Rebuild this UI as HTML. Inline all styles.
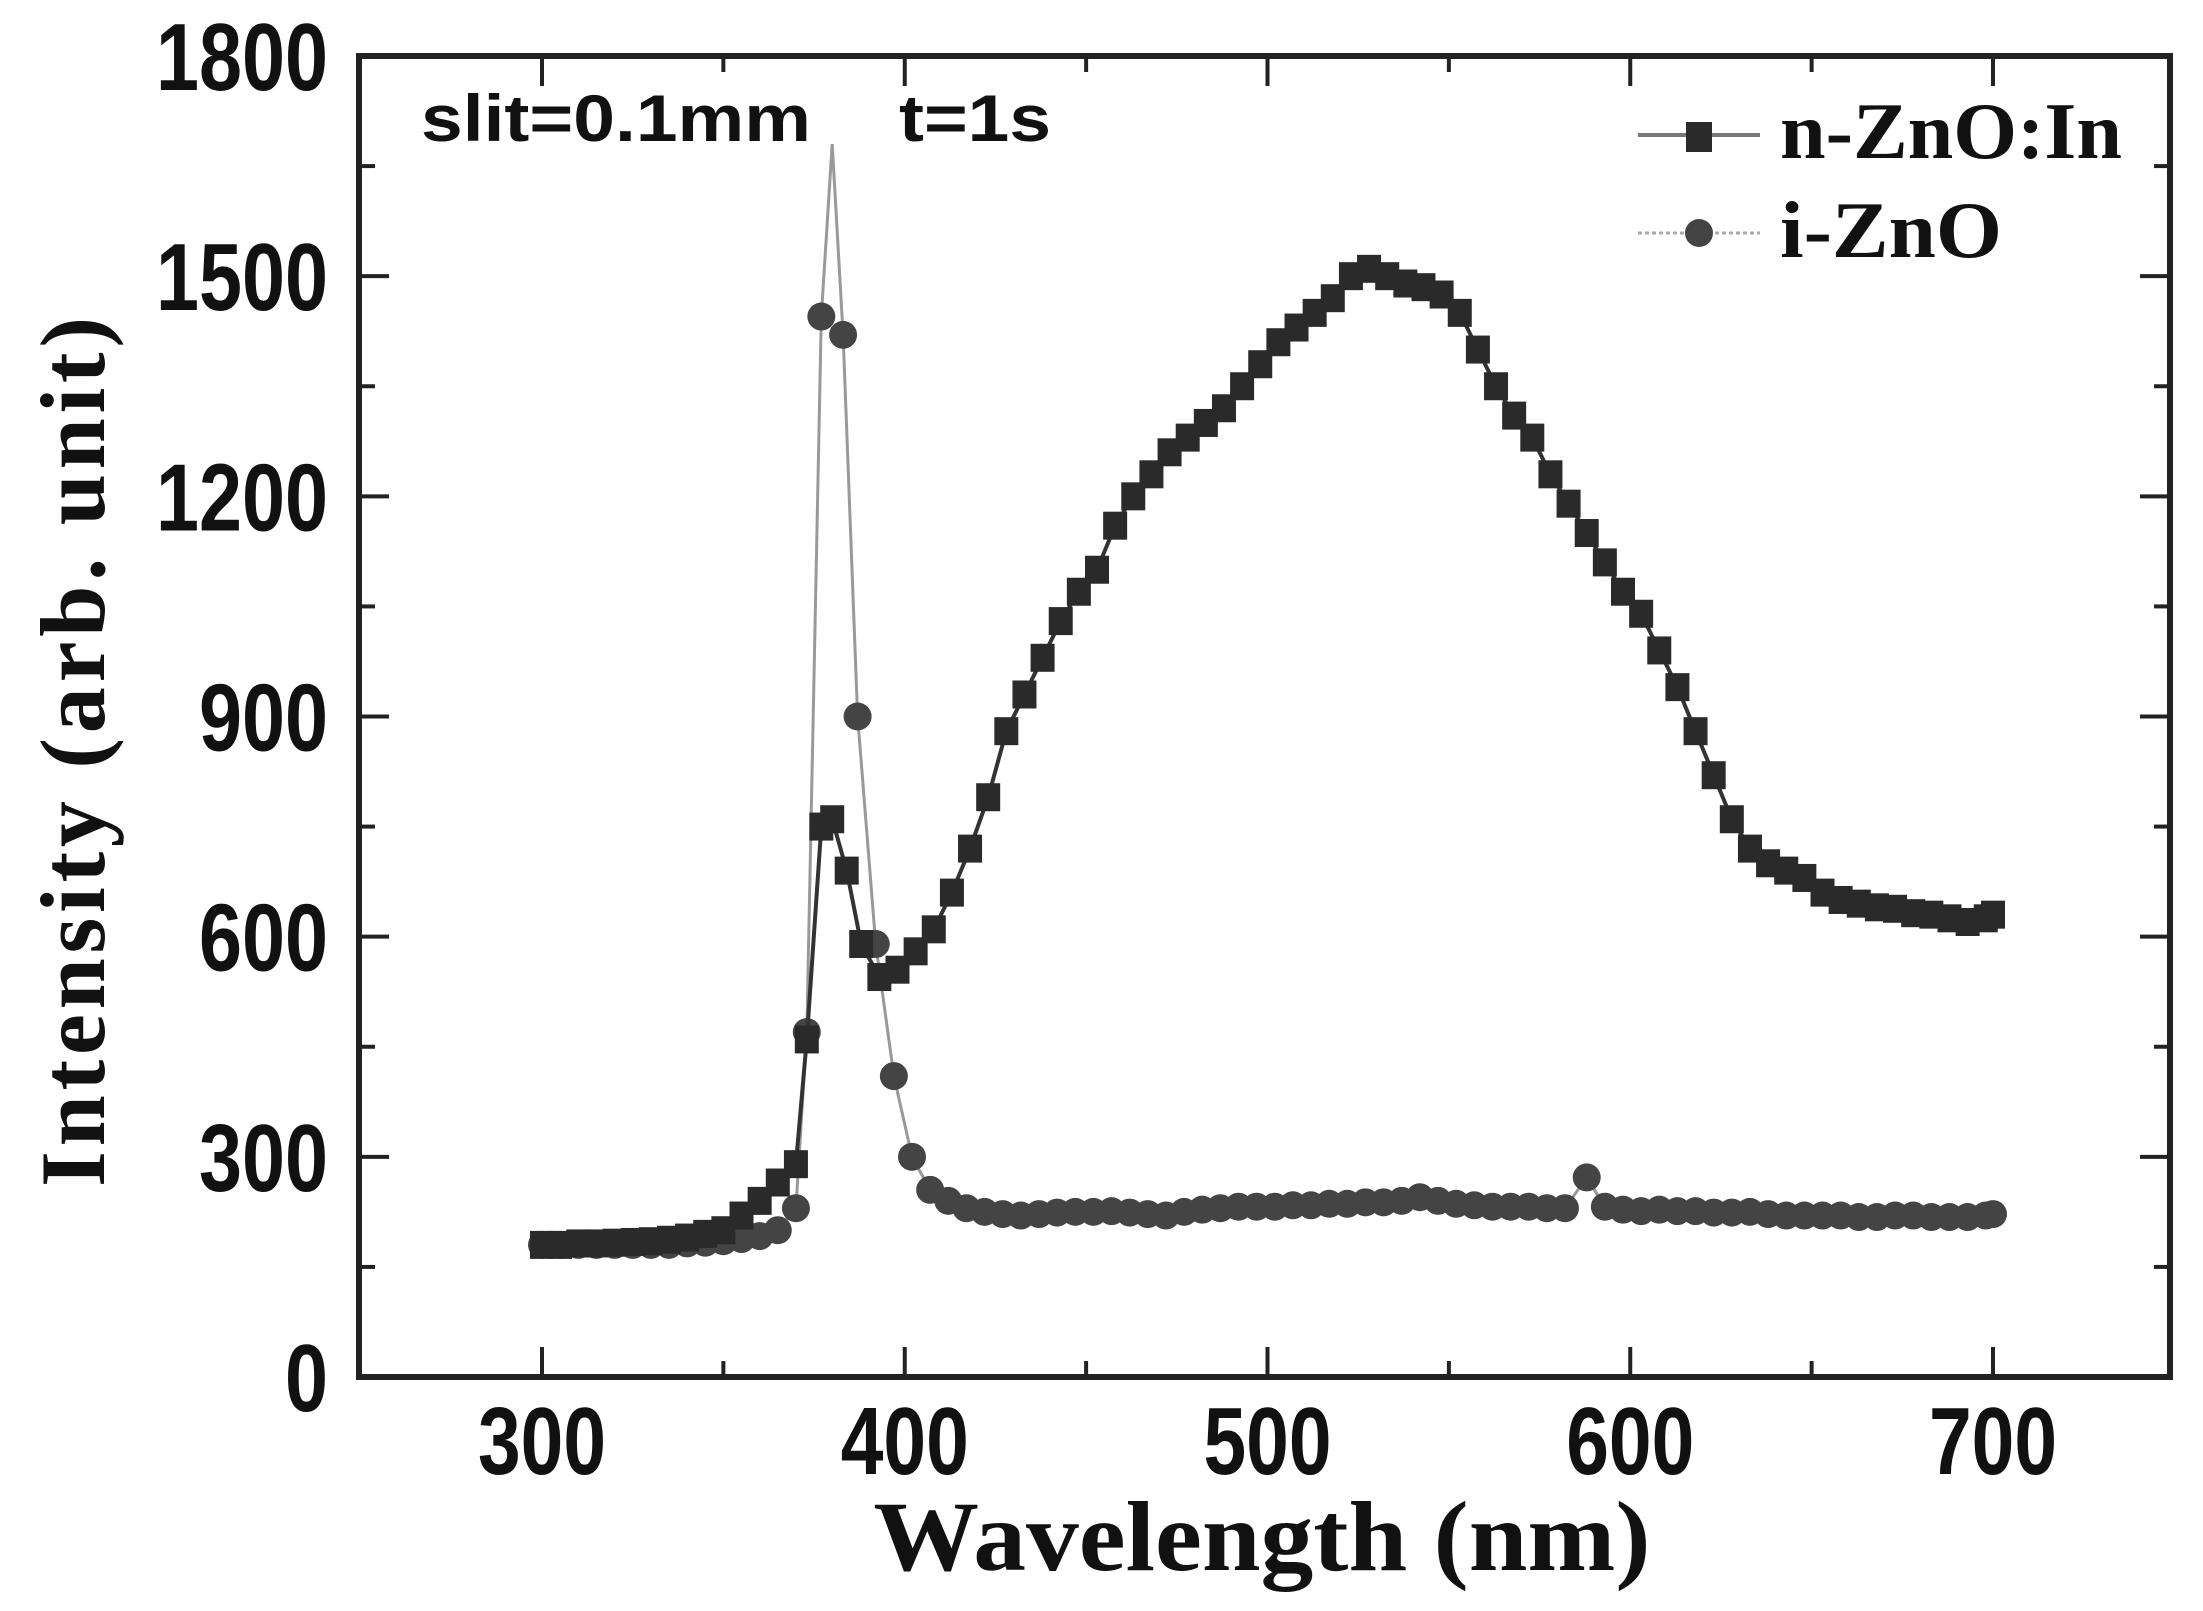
<!DOCTYPE html>
<html><head><meta charset="utf-8"><style>
html,body{margin:0;padding:0;background:#fff;}
svg{display:block;}
</style></head><body>
<svg id="chart" width="2203" height="1611" viewBox="0 0 2203 1611" xmlns="http://www.w3.org/2000/svg">
<rect x="0" y="0" width="2203" height="1611" fill="#fff"/>
<g id="axes"></g>
<g id="series"></g>
<text x="421" y="141" font-family="Liberation Sans, sans-serif" font-weight="bold" font-size="66" fill="#111" textLength="390" lengthAdjust="spacingAndGlyphs">slit=0.1mm</text>
<text x="899" y="141" font-family="Liberation Sans, sans-serif" font-weight="bold" font-size="66" fill="#111" textLength="152" lengthAdjust="spacingAndGlyphs">t=1s</text>
<g>
 <g>
  <line x1="1638" y1="135" x2="1760" y2="135" stroke="#777" stroke-width="4"/>
  <rect x="1686" y="122" width="26" height="30" fill="#2a2a2a"/>
  <text x="1780" y="158" font-family="Liberation Serif, serif" font-weight="bold" font-size="80" fill="#111" textLength="342" lengthAdjust="spacingAndGlyphs">n-ZnO:In</text>
 </g>
 <g>
  <line x1="1638" y1="233" x2="1760" y2="233" stroke="#aaa" stroke-width="3" stroke-dasharray="4,3"/>
  <circle cx="1699" cy="233" r="14" fill="#444"/>
  <text x="1780" y="257" font-family="Liberation Serif, serif" font-weight="bold" font-size="80" fill="#111" textLength="222" lengthAdjust="spacingAndGlyphs">i-ZnO</text>
 </g>
</g>
<text x="1262" y="1570" text-anchor="middle" font-family="Liberation Serif, serif" font-weight="bold" font-size="100" fill="#111" textLength="777" lengthAdjust="spacingAndGlyphs">Wavelength (nm)</text>
<text transform="translate(104,752) rotate(-90)" text-anchor="middle" font-family="Liberation Serif, serif" font-weight="bold" font-size="92" fill="#111" textLength="870">Intensity (arb. unit)</text>
</svg>
<script>
const xTicks = [300, 400, 500, 600, 700];
const yTicks = [0, 300, 600, 900, 1200, 1500, 1800];
const nznoX = [300,305,310,315,320,325,330,335,340,345,350,355,360,365,370,373,377,380,384,388,393,398,403,408,413,418,423,428,433,438,443,448,453,458,463,468,473,478,483,488,493,498,503,508,513,518,523,528,533,538,543,548,553,558,563,568,573,578,583,588,593,598,603,608,613,618,623,628,633,638,643,648,653,658,663,668,673,678,683,688,693,698,700];
const nznoY = [180,180,182,182,183,184,185,187,190,195,200,220,240,265,290,460,750,760,690,590,545,555,580,610,660,720,790,880,930,980,1030,1070,1100,1160,1200,1230,1260,1280,1300,1320,1350,1380,1410,1430,1450,1470,1500,1510,1500,1490,1485,1475,1450,1400,1350,1310,1280,1230,1190,1150,1110,1070,1040,990,940,880,820,760,720,700,690,680,660,650,645,640,638,632,630,625,620,625,630];
const iznoX = [300,305,310,315,320,325,330,335,340,345,350,355,360,365,370,373,377,380,383,387,392,397,402,407,412,417,422,427,432,437,442,447,452,457,462,467,472,477,482,487,492,497,502,507,512,517,522,527,532,537,542,547,552,557,562,567,572,577,582,588,593,598,603,608,613,618,623,628,633,638,643,648,653,658,663,668,673,678,683,688,693,698,700];
const iznoY = [180,180,180,180,180,180,180,180,182,183,185,188,192,200,230,470,1445,1680,1420,900,590,410,300,255,240,230,225,222,220,222,224,225,225,226,224,222,220,225,228,230,232,232,232,234,234,236,236,238,238,240,245,240,236,234,232,232,232,230,230,272,232,228,226,228,226,226,224,224,225,222,220,220,220,220,218,218,220,220,218,218,218,220,222];

const NS='http://www.w3.org/2000/svg';
const L=359,R=2170,T=56,B=1377;
function sx(v){return 542+(v-300)*(1993-542)/400;}
function sy(v){return B-v*(B-T)/1800;}
const axes=document.getElementById('axes');
const series=document.getElementById('series');
function mk(tag,attrs,parent){const e=document.createElementNS(NS,tag);for(const k in attrs)e.setAttribute(k,attrs[k]);parent.appendChild(e);return e;}

const frame=mk('rect',{x:L,y:T,width:R-L,height:B-T,fill:'none',stroke:'#222','stroke-width':6},axes);



xTicks.forEach((v,i)=>{
  const x=sx(v);
  const t=mk('line',{x1:x,y1:B,x2:x,y2:B-30,stroke:'#222','stroke-width':4},axes);
  
  
  mk('line',{x1:x,y1:T,x2:x,y2:T+30,stroke:'#222','stroke-width':4},axes);
  const m=sx(v+50);
  if(v<700){mk('line',{x1:m,y1:B,x2:m,y2:B-16,stroke:'#222','stroke-width':4},axes);mk('line',{x1:m,y1:T,x2:m,y2:T+16,stroke:'#222','stroke-width':4},axes);}
  const lb=mk('text',{x:x,y:1474,'text-anchor':'middle','font-family':'Liberation Sans, sans-serif','font-weight':'bold','font-size':96,fill:'#111',textLength:128,lengthAdjust:'spacingAndGlyphs'},axes);
  lb.textContent=v;
  
  
});
yTicks.forEach(v=>{
  const y=sy(v);
  const t=mk('line',{x1:L,y1:y,x2:L+30,y2:y,stroke:'#222','stroke-width':4},axes);
  
  
  mk('line',{x1:R,y1:y,x2:R-30,y2:y,stroke:'#222','stroke-width':4},axes);
  if(v<1800){const m=sy(v+150);mk('line',{x1:L,y1:m,x2:L+16,y2:m,stroke:'#222','stroke-width':4},axes);mk('line',{x1:R,y1:m,x2:R-16,y2:m,stroke:'#222','stroke-width':4},axes);}
  const s=String(v);
  const lb=mk('text',{x:328,y:y+34,'text-anchor':'end','font-family':'Liberation Sans, sans-serif','font-weight':'bold','font-size':96,fill:'#111',textLength:s.length*43,lengthAdjust:'spacingAndGlyphs'},axes);
  lb.textContent=s;
  
  
});

function poly(xs,ys){return xs.map((x,i)=>sx(x).toFixed(1)+','+sy(ys[i]).toFixed(1)).join(' ');}
const gi=mk('g',{},series);


mk('polyline',{points:poly(iznoX,iznoY),fill:'none',stroke:'#999','stroke-width':3},gi);
iznoX.forEach((x,i)=>{
  if(x===380) return;
  const c=mk('circle',{cx:sx(x),cy:sy(iznoY[i]),r:14,fill:'#444'},gi);
  
  
});
const gn=mk('g',{},series);


mk('polyline',{points:poly(nznoX,nznoY),fill:'none',stroke:'#333','stroke-width':4},gn);
nznoX.forEach((x,i)=>{
  const r=mk('rect',{x:sx(x)-12,y:sy(nznoY[i])-14,width:24,height:28,fill:'#2a2a2a'},gn);
  
  
});
</script>
</body></html>
